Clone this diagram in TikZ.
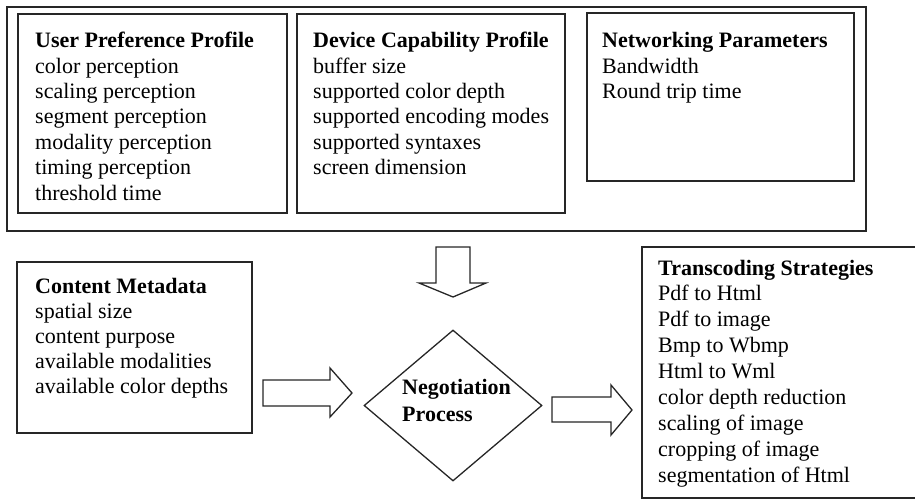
\documentclass[tikz,border=0pt]{standalone}
\usepackage{fontspec}
\setmainfont{Liberation Serif}
\usetikzlibrary{shapes.geometric}
\begin{document}
\begin{tikzpicture}[x=1pt,y=-1pt,
  frame/.style={draw=black!85, line width=1.3pt},
  heading/.style={anchor=base west, inner sep=0pt, font=\fontsize{22}{25}\selectfont\bfseries},
  item/.style={anchor=base west, inner sep=0pt, font=\fontsize{22}{25}\selectfont},
  blockarrow/.style={draw=black!85, line width=1.3pt, line join=miter, fill=white}]
\useasboundingbox (0,0) rectangle (915,498);

% outer frame holding the three profiles
\draw[frame] (7,7) rectangle (866,231);

% user preference profile
\draw[frame] (18,14) rectangle (287,213);
\node[heading] (upp) at (35,47.7) {User Preference Profile};
\foreach \t [count=\i] in {color perception, scaling perception, segment perception,
    modality perception, timing perception, threshold time}
  \node[item] (upp-\i) at (35,47.7+25.4*\i) {\t};

% device capability profile
\draw[frame] (297,14) rectangle (565,213);
\node[heading] (dcp) at (313,47.7) {Device Capability Profile};
\foreach \t [count=\i] in {buffer size, supported color depth, supported encoding modes,
    supported syntaxes, screen dimension}
  \node[item] (dcp-\i) at (313,47.7+25.4*\i) {\t};

% networking parameters
\draw[frame] (587,13) rectangle (854,181);
\node[heading] (net) at (602,47.7) {Networking Parameters};
\foreach \t [count=\i] in {Bandwidth, Round trip time}
  \node[item] (net-\i) at (602,47.7+25.4*\i) {\t};

% content metadata
\draw[frame] (17,262) rectangle (252,433);
\node[heading] (cmd) at (35,293) {Content Metadata};
\foreach \t [count=\i] in {spatial size, content purpose, available modalities,
    available color depths}
  \node[item] (cmd-\i) at (35,293+25*\i) {\t};

% transcoding strategies (box runs past the right edge of the page)
\draw[frame] (642,247) rectangle (925,498);
\node[heading] (trs) at (658,275) {Transcoding Strategies};
\foreach \t [count=\i] in {Pdf to Html, Pdf to image, Bmp to Wbmp, Html to Wml,
    color depth reduction, scaling of image, cropping of image, segmentation of Html}
  \node[item] (trs-\i) at (658,275+25.9*\i) {\t};

% negotiation process
\node[diamond, draw=black!85, line width=1.3pt, inner sep=0pt,
      minimum width=178pt, minimum height=151pt] (neg) at (453,405.5) {};
\node[heading] (neg-1) at (402,394) {Negotiation};
\node[heading] (neg-2) at (402,421) {Process};

% block arrows
\draw[blockarrow] (436,247) -- (470,247) -- (470,283) -- (486,283) -- (453,297)
  -- (419,283) -- (436,283) -- cycle;
\draw[blockarrow] (263,380) -- (330,380) -- (330,368) -- (352,393) -- (330,417)
  -- (330,406) -- (263,406) -- cycle;
\draw[blockarrow] (552,397) -- (611,397) -- (611,385) -- (632,410) -- (611,435)
  -- (611,422) -- (552,422) -- cycle;
\end{tikzpicture}
\end{document}
